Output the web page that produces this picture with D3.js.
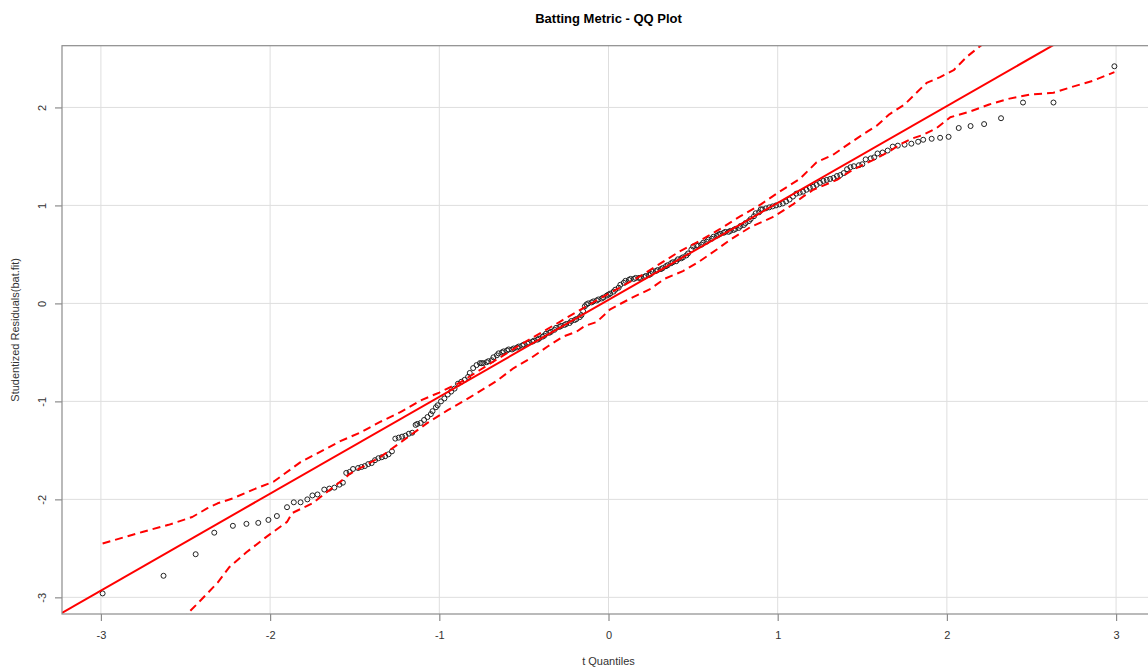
<!DOCTYPE html>
<head>
  <meta charset="utf-8">
  <title>Batting Metric - QQ Plot</title>
  <style>
    body { margin: 0; background: #fff; }
    svg { display: block; font-family: "Liberation Sans", Arial, sans-serif; }
  </style>
</head>
<body>
  <svg width="1148" height="668"></svg>
</body>

<script src="https://d3js.org/d3.v7.min.js"></script>
<script>

// theoretical t quantiles (x) and sorted studentized residuals (y)
var tQuant = [-2.99, -2.63, -2.44, -2.33, -2.22, -2.14, -2.07, -2.01, -1.96, -1.90,
  -1.86, -1.82, -1.78, -1.75, -1.72, -1.68, -1.65, -1.62, -1.59, -1.57,
  -1.55, -1.53, -1.51, -1.48, -1.46, -1.44, -1.42, -1.40, -1.38, -1.36,
  -1.34, -1.32, -1.30, -1.28, -1.26, -1.24, -1.22, -1.20, -1.18, -1.16,
  -1.14, -1.13, -1.11, -1.09, -1.07, -1.05, -1.04, -1.02, -1.01, -0.99,
  -0.97, -0.95, -0.93, -0.91, -0.89, -0.87, -0.85, -0.83, -0.82, -0.80,
  -0.78, -0.76, -0.75, -0.74, -0.72, -0.71, -0.69, -0.68, -0.66, -0.65,
  -0.63, -0.62, -0.60, -0.59, -0.57, -0.56, -0.54, -0.53, -0.51, -0.50,
  -0.48, -0.47, -0.45, -0.44, -0.42, -0.41, -0.39, -0.38, -0.37, -0.35,
  -0.34, -0.32, -0.31, -0.29, -0.28, -0.26, -0.25, -0.23, -0.22, -0.20,
  -0.19, -0.17, -0.16, -0.15, -0.14, -0.13, -0.12, -0.10, -0.09, -0.07,
  -0.06, -0.04, -0.03, -0.01, 0.00, 0.01, 0.03, 0.04, 0.06, 0.07,
  0.09, 0.10, 0.12, 0.13, 0.15, 0.16, 0.18, 0.19, 0.21, 0.22,
  0.24, 0.25, 0.26, 0.28, 0.29, 0.31, 0.32, 0.34, 0.35, 0.37,
  0.38, 0.40, 0.41, 0.43, 0.44, 0.46, 0.47, 0.49, 0.50, 0.52,
  0.53, 0.55, 0.56, 0.58, 0.59, 0.61, 0.62, 0.64, 0.65, 0.66,
  0.68, 0.69, 0.71, 0.72, 0.74, 0.75, 0.77, 0.78, 0.80, 0.81,
  0.83, 0.84, 0.86, 0.87, 0.89, 0.90, 0.91, 0.93, 0.95, 0.97,
  0.99, 1.01, 1.03, 1.05, 1.07, 1.09, 1.11, 1.13, 1.15, 1.17,
  1.19, 1.21, 1.23, 1.25, 1.27, 1.29, 1.31, 1.33, 1.35, 1.37,
  1.39, 1.41, 1.43, 1.45, 1.48, 1.50, 1.52, 1.55, 1.57, 1.59,
  1.62, 1.65, 1.68, 1.71, 1.75, 1.79, 1.83, 1.86, 1.91, 1.96,
  2.01, 2.07, 2.14, 2.22, 2.32, 2.45, 2.63, 2.99];

var studRes = [-2.96, -2.78, -2.56, -2.34, -2.27, -2.25, -2.24, -2.21, -2.17, -2.08,
  -2.03, -2.03, -2.00, -1.96, -1.95, -1.90, -1.89, -1.88, -1.85, -1.83,
  -1.73, -1.72, -1.69, -1.68, -1.67, -1.66, -1.64, -1.63, -1.60, -1.58,
  -1.57, -1.56, -1.54, -1.51, -1.38, -1.37, -1.36, -1.35, -1.33, -1.32,
  -1.24, -1.23, -1.22, -1.19, -1.16, -1.13, -1.10, -1.06, -1.04, -1.00,
  -0.97, -0.93, -0.90, -0.87, -0.82, -0.80, -0.78, -0.75, -0.71, -0.66,
  -0.63, -0.61, -0.61, -0.61, -0.60, -0.59, -0.58, -0.55, -0.53, -0.51,
  -0.50, -0.49, -0.48, -0.47, -0.47, -0.46, -0.45, -0.44, -0.43, -0.42,
  -0.41, -0.40, -0.39, -0.38, -0.37, -0.36, -0.34, -0.33, -0.31, -0.30,
  -0.29, -0.27, -0.25, -0.24, -0.23, -0.22, -0.21, -0.20, -0.18, -0.17,
  -0.16, -0.14, -0.12, -0.08, -0.03, -0.01, 0.00, 0.01, 0.02, 0.03,
  0.04, 0.05, 0.06, 0.08, 0.09, 0.10, 0.12, 0.14, 0.16, 0.19,
  0.21, 0.23, 0.24, 0.25, 0.25, 0.26, 0.26, 0.26, 0.27, 0.28,
  0.29, 0.30, 0.32, 0.33, 0.34, 0.35, 0.36, 0.38, 0.39, 0.41,
  0.42, 0.43, 0.45, 0.46, 0.47, 0.49, 0.51, 0.55, 0.58, 0.59,
  0.59, 0.60, 0.62, 0.63, 0.65, 0.66, 0.68, 0.69, 0.70, 0.71,
  0.72, 0.73, 0.73, 0.74, 0.75, 0.76, 0.77, 0.79, 0.80, 0.82,
  0.84, 0.86, 0.89, 0.92, 0.93, 0.96, 0.96, 0.97, 0.98, 0.99,
  1.00, 1.01, 1.02, 1.04, 1.06, 1.09, 1.12, 1.13, 1.14, 1.16,
  1.18, 1.19, 1.21, 1.23, 1.25, 1.26, 1.27, 1.28, 1.30, 1.31,
  1.33, 1.37, 1.39, 1.40, 1.41, 1.42, 1.47, 1.48, 1.49, 1.53,
  1.54, 1.56, 1.60, 1.61, 1.62, 1.63, 1.65, 1.67, 1.68, 1.69,
  1.70, 1.79, 1.81, 1.83, 1.89, 2.05, 2.05, 2.42];

// fitted reference line
var lineIntercept = 0.036,
    lineSlope = 0.989;

// confidence envelope
var upperX = [-2.99, -2.75, -2.60, -2.46, -2.37, -2.31, -2.22, -2.10, -1.98, -1.82,
  -1.71, -1.59, -1.47, -1.35, -1.23, -1.11, -1.00, -0.88, -0.76, -0.52,
  -0.29, -0.05, 0.19, 0.42, 0.54, 0.66, 0.78, 0.90, 1.01, 1.13,
  1.23, 1.33, 1.43, 1.50, 1.59, 1.66, 1.75, 1.82, 1.88, 1.96,
  2.04, 2.12, 2.20, 2.28];
var upperY = [-2.45, -2.33, -2.26, -2.18, -2.09, -2.04, -1.99, -1.90, -1.82, -1.62,
  -1.52, -1.41, -1.32, -1.21, -1.11, -0.99, -0.91, -0.81, -0.68, -0.42,
  -0.19, 0.05, 0.28, 0.53, 0.64, 0.76, 0.89, 1.01, 1.14, 1.27,
  1.44, 1.52, 1.64, 1.72, 1.82, 1.93, 2.03, 2.15, 2.25, 2.31,
  2.38, 2.52, 2.63, 2.76];

var lowerX = [-2.52, -2.49, -2.41, -2.31, -2.24, -2.14, -2.02, -1.90, -1.87, -1.75,
  -1.63, -1.57, -1.53, -1.35, -1.23, -1.07, -0.95, -0.82, -0.66, -0.56,
  -0.46, -0.36, -0.27, -0.19, -0.14, -0.07, 0.01, 0.13, 0.25, 0.33,
  0.44, 0.53, 0.64, 0.72, 0.84, 0.97, 1.09, 1.15, 1.21, 1.35,
  1.44, 1.56, 1.66, 1.72, 1.79, 1.86, 1.94, 2.02, 2.14, 2.25,
  2.37, 2.49, 2.63, 2.74, 2.86, 2.99];
var lowerY = [-3.24, -3.17, -3.03, -2.85, -2.69, -2.54, -2.38, -2.23, -2.14, -2.04,
  -1.88, -1.80, -1.74, -1.57, -1.42, -1.22, -1.09, -0.96, -0.79, -0.66,
  -0.56, -0.44, -0.34, -0.29, -0.23, -0.19, -0.06, 0.05, 0.15, 0.25,
  0.33, 0.42, 0.55, 0.65, 0.78, 0.88, 1.01, 1.09, 1.16, 1.26,
  1.36, 1.46, 1.55, 1.62, 1.68, 1.72, 1.79, 1.90, 1.96, 2.03,
  2.09, 2.13, 2.15, 2.21, 2.27, 2.36];

var xTicks = [-3, -2, -1, 0, 1, 2, 3],
    yTicks = [-3, -2, -1, 0, 1, 2];

var svg = d3.select("svg");
var plotL = 62, plotR = 1155, plotT = 45.7, plotB = 614;

var x = d3.scaleLinear().domain([-3.23, 3.23]).range([plotL, plotR]);
var y = d3.scaleLinear().domain([-3.17, 2.63]).range([plotB, plotT]);

svg.append("defs").append("clipPath").attr("id", "plotClip")
  .append("rect")
    .attr("x", plotL).attr("y", plotT)
    .attr("width", plotR - plotL).attr("height", plotB - plotT);

// grid
var grid = svg.append("g").attr("stroke", "#dedede").attr("stroke-width", 1);
grid.selectAll(".vg").data(xTicks).enter().append("line")
    .attr("x1", d => x(d)).attr("x2", d => x(d))
    .attr("y1", plotT).attr("y2", plotB);
grid.selectAll(".hg").data(yTicks).enter().append("line")
    .attr("x1", plotL).attr("x2", plotR)
    .attr("y1", d => y(d)).attr("y2", d => y(d));

var plot = svg.append("g").attr("clip-path", "url(#plotClip)");

// points
plot.append("g")
  .selectAll("circle")
  .data(d3.zip(tQuant, studRes))
  .enter().append("circle")
    .attr("cx", d => x(d[0]))
    .attr("cy", d => y(d[1]))
    .attr("r", 2.5)
    .attr("fill", "none")
    .attr("stroke", "#222")
    .attr("stroke-width", 1);

// reference line
plot.append("line")
    .attr("x1", x(-3.23)).attr("y1", y(lineIntercept + lineSlope * -3.23))
    .attr("x2", x(3.23)).attr("y2", y(lineIntercept + lineSlope * 3.23))
    .attr("stroke", "#ff0000")
    .attr("stroke-width", 2);

// envelope
var env = d3.line().x(d => x(d[0])).y(d => y(d[1]));
[d3.zip(upperX, upperY), d3.zip(lowerX, lowerY)].forEach(function(pts) {
  plot.append("path")
      .attr("d", env(pts))
      .attr("fill", "none")
      .attr("stroke", "#ff0000")
      .attr("stroke-width", 2)
      .attr("stroke-linejoin", "round")
      .attr("stroke-dasharray", "8,5");
});

// frame
svg.append("rect")
    .attr("x", plotL).attr("y", plotT)
    .attr("width", plotR - plotL).attr("height", plotB - plotT)
    .attr("fill", "none")
    .attr("stroke", "#8c8c8c")
    .attr("stroke-width", 1.2);

// axes
var fmt = d => String(d);
var xAxis = svg.append("g")
    .attr("transform", "translate(0," + plotB + ")")
    .call(d3.axisBottom(x).tickValues(xTicks).tickSize(7).tickPadding(10).tickFormat(fmt));
var yAxis = svg.append("g")
    .attr("transform", "translate(" + plotL + ",0)")
    .call(d3.axisLeft(y).tickValues(yTicks).tickSize(7).tickPadding(8).tickFormat(fmt));

[xAxis, yAxis].forEach(function(a) {
  a.select(".domain").remove();
  a.selectAll(".tick line").attr("stroke", "#8c8c8c").attr("stroke-width", 1.2);
  a.selectAll(".tick text")
    .attr("fill", "#333")
    .style("font-family", "'Liberation Sans', Arial, sans-serif")
    .style("font-size", "11px");
});

yAxis.selectAll(".tick text")
    .attr("text-anchor", "middle")
    .attr("x", null)
    .attr("transform", "translate(-20,0) rotate(-90)")
    .attr("dy", "0.35em");

// titles
svg.append("text")
    .attr("x", (plotL + plotR) / 2).attr("y", 23)
    .attr("text-anchor", "middle")
    .style("font-size", "13px").style("font-weight", "bold")
    .attr("fill", "#000")
    .text("Batting Metric - QQ Plot");

svg.append("text")
    .attr("x", (plotL + plotR) / 2).attr("y", 665)
    .attr("text-anchor", "middle")
    .style("font-size", "11px")
    .attr("fill", "#333")
    .text("t Quantiles");

svg.append("text")
    .attr("transform", "translate(19," + ((plotT + plotB) / 2) + ") rotate(-90)")
    .attr("text-anchor", "middle")
    .style("font-size", "11px")
    .attr("fill", "#333")
    .text("Studentized Residuals(bat.fit)");

</script>
</html>
